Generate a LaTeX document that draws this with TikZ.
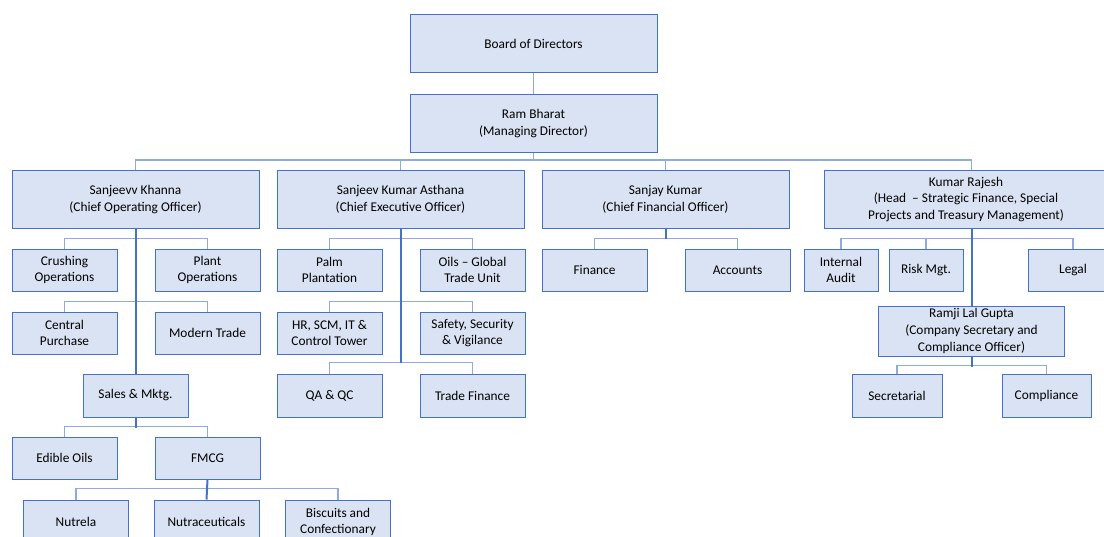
\documentclass[tikz,border=0pt]{standalone}
\usepackage{fontspec}
\setmainfont{Carlito}
\usepackage{xcolor}
\usepackage{tikz}
\usetikzlibrary{positioning,calc}

\definecolor{boxfill}{HTML}{DAE3F3}
\definecolor{boxline}{HTML}{4472C4}
\definecolor{branchblue}{HTML}{8FAADC}

\begin{document}
\begin{tikzpicture}[
    x=0.75pt, y=-0.75pt,
    node distance=27.75pt,
    box/.style={rectangle, draw=boxline, line width=0.75pt, fill=boxfill, align=center, inner sep=1pt,
        font=\fontsize{10pt}{12.5pt}\selectfont, minimum width=78.75pt, minimum height=31.5pt},
    bigbox/.style={box, minimum width=185.25pt, minimum height=43.5pt},
    trunk/.style={draw=boxline, line width=1.5pt},
    branch/.style={draw=branchblue, line width=1pt}
]
    \clip (0,0) rectangle (1104,536);
    \fill[white] (0,0) rectangle (1104,536);

    % Top
    \node[bigbox] (board) at (533.5,43.5) {Board of Directors};
    \node[bigbox, below=15.75pt of board] (ram) {Ram Bharat\\(Managing Director)};

    % Second level
    \node[bigbox] (coo) at (135.5,199.5) {Sanjeevv Khanna\\(Chief Operating Officer)};
    \node[bigbox] (ceo) at (400.5,199.5) {Sanjeev Kumar Asthana\\(Chief Executive Officer)};
    \node[bigbox] (cfo) at (665.5,199.5) {Sanjay Kumar\\(Chief Financial Officer)};
    \node[bigbox, minimum width=212.25pt] (kr) at (966,199.5) {Kumar Rajesh\\(Head \ -- Strategic Finance, Special\\Projects and Treasury Management)};

    % COO side
    \node[box] (crush) at (64.5,270) {Crushing\\Operations};
    \node[box, right=of crush] (plant) {Plant\\Operations};
    \node[box] (central) at (64.5,333) {Central\\Purchase};
    \node[box, right=of central] (modern) {Modern Trade};
    \node[box, minimum height=32.25pt] (sales) at (135.5,395.5) {Sales \& Mktg.};
    \node[box] (edible) at (64.5,458) {Edible Oils};
    \node[box, right=of edible] (fmcg) {FMCG};
    \node[box, minimum height=33pt] (nutrela) at (76,522) {Nutrela};
    \node[box, minimum height=33pt] (nutra) at (206.5,522) {Nutraceuticals};
    \node[box, minimum height=33pt] (biscuit) at (338,522) {Biscuits and\\Confectionary};

    % CEO side
    \node[box] (palm) at (329.5,270) {Palm\\Plantation};
    \node[box, right=of palm] (oils) {Oils -- Global\\Trade Unit};
    \node[box] (hr) at (329.5,333) {HR, SCM, IT \&\\Control Tower};
    \node[box, right=of hr] (safety) {Safety, Security\\\& Vigilance};
    \node[box, minimum height=32.25pt] (qa) at (329.5,395.5) {QA \& QC};
    \node[box, minimum height=32.25pt, right=of qa] (trade) {Trade Finance};

    % CFO side
    \node[box] (finance) at (594.5,270) {Finance};
    \node[box, right=of finance] (accounts) {Accounts};

    % Kumar Rajesh side
    \node[box, minimum width=55.5pt] (audit) at (841,270) {Internal\\Audit};
    \node[box, minimum width=55.5pt] (risk) at (926,270) {Risk Mgt.};
    \node[box, minimum width=67.5pt] (legal) at (1073,270) {Legal};
    \node[box, minimum width=139.5pt, minimum height=37.5pt] (ramji) at (971.5,331) {Ramji Lal Gupta\\(Company Secretary and\\Compliance Officer)};
    \node[box, minimum width=67.5pt, minimum height=32.25pt] (secr) at (897,395.5) {Secretarial};
    \node[box, minimum width=66.75pt, minimum height=32.25pt] (compl) at (1046.5,395.5) {Compliance};

    % Connectors
    \draw[branch] (board) -- (ram);
    \draw[branch] (ram.south) -- (ram.south |- 0,160);
    \draw[branch] (coo.north) -- ++(0,-10) -| (kr.north -| ramji.north);
    \draw[branch] (ceo.north) -- ++(0,-10);
    \draw[branch] (cfo.north) -- ++(0,-10);

    \draw[branch] (crush.north) -- ++(0,-10) -| (plant.north);
    \draw[branch] (central.north) -- ++(0,-10) -| (modern.north);
    \draw[branch] (edible.north) -- ++(0,-10) -| (fmcg.north);
    \draw[branch] (nutrela.north) -- ++(0,-11) -| (biscuit.north);
    \draw[trunk] (coo.south) -- (sales.north);
    \draw[trunk] (sales.south) -- ++(0,10);
    \draw[trunk] (fmcg.south) -- (nutra.north);

    \draw[branch] (palm.north) -- ++(0,-10) -| (oils.north);
    \draw[branch] (hr.north) -- ++(0,-10) -| (safety.north);
    \draw[branch] (qa.north) -- ++(0,-11) -| (trade.north);
    \draw[trunk] (ceo.south) -- ($(ceo.south |- qa.north)+(0,-11)$);

    \draw[branch] (finance.north) -- ++(0,-10) -| (accounts.north);
    \draw[trunk] (cfo.south) -- ++(0,10);

    \draw[branch] (audit.north) -- ++(0,-10) -| (legal.north);
    \draw[branch] (risk.north) -- ++(0,-10);
    \draw[trunk] (kr.south -| ramji.north) -- (ramji.north);
    \draw[branch] (secr.north) -- ++(0,-8) -| (compl.north);
    \draw[trunk] (ramji.south) -- ++(0,10);
\end{tikzpicture}
\end{document}
